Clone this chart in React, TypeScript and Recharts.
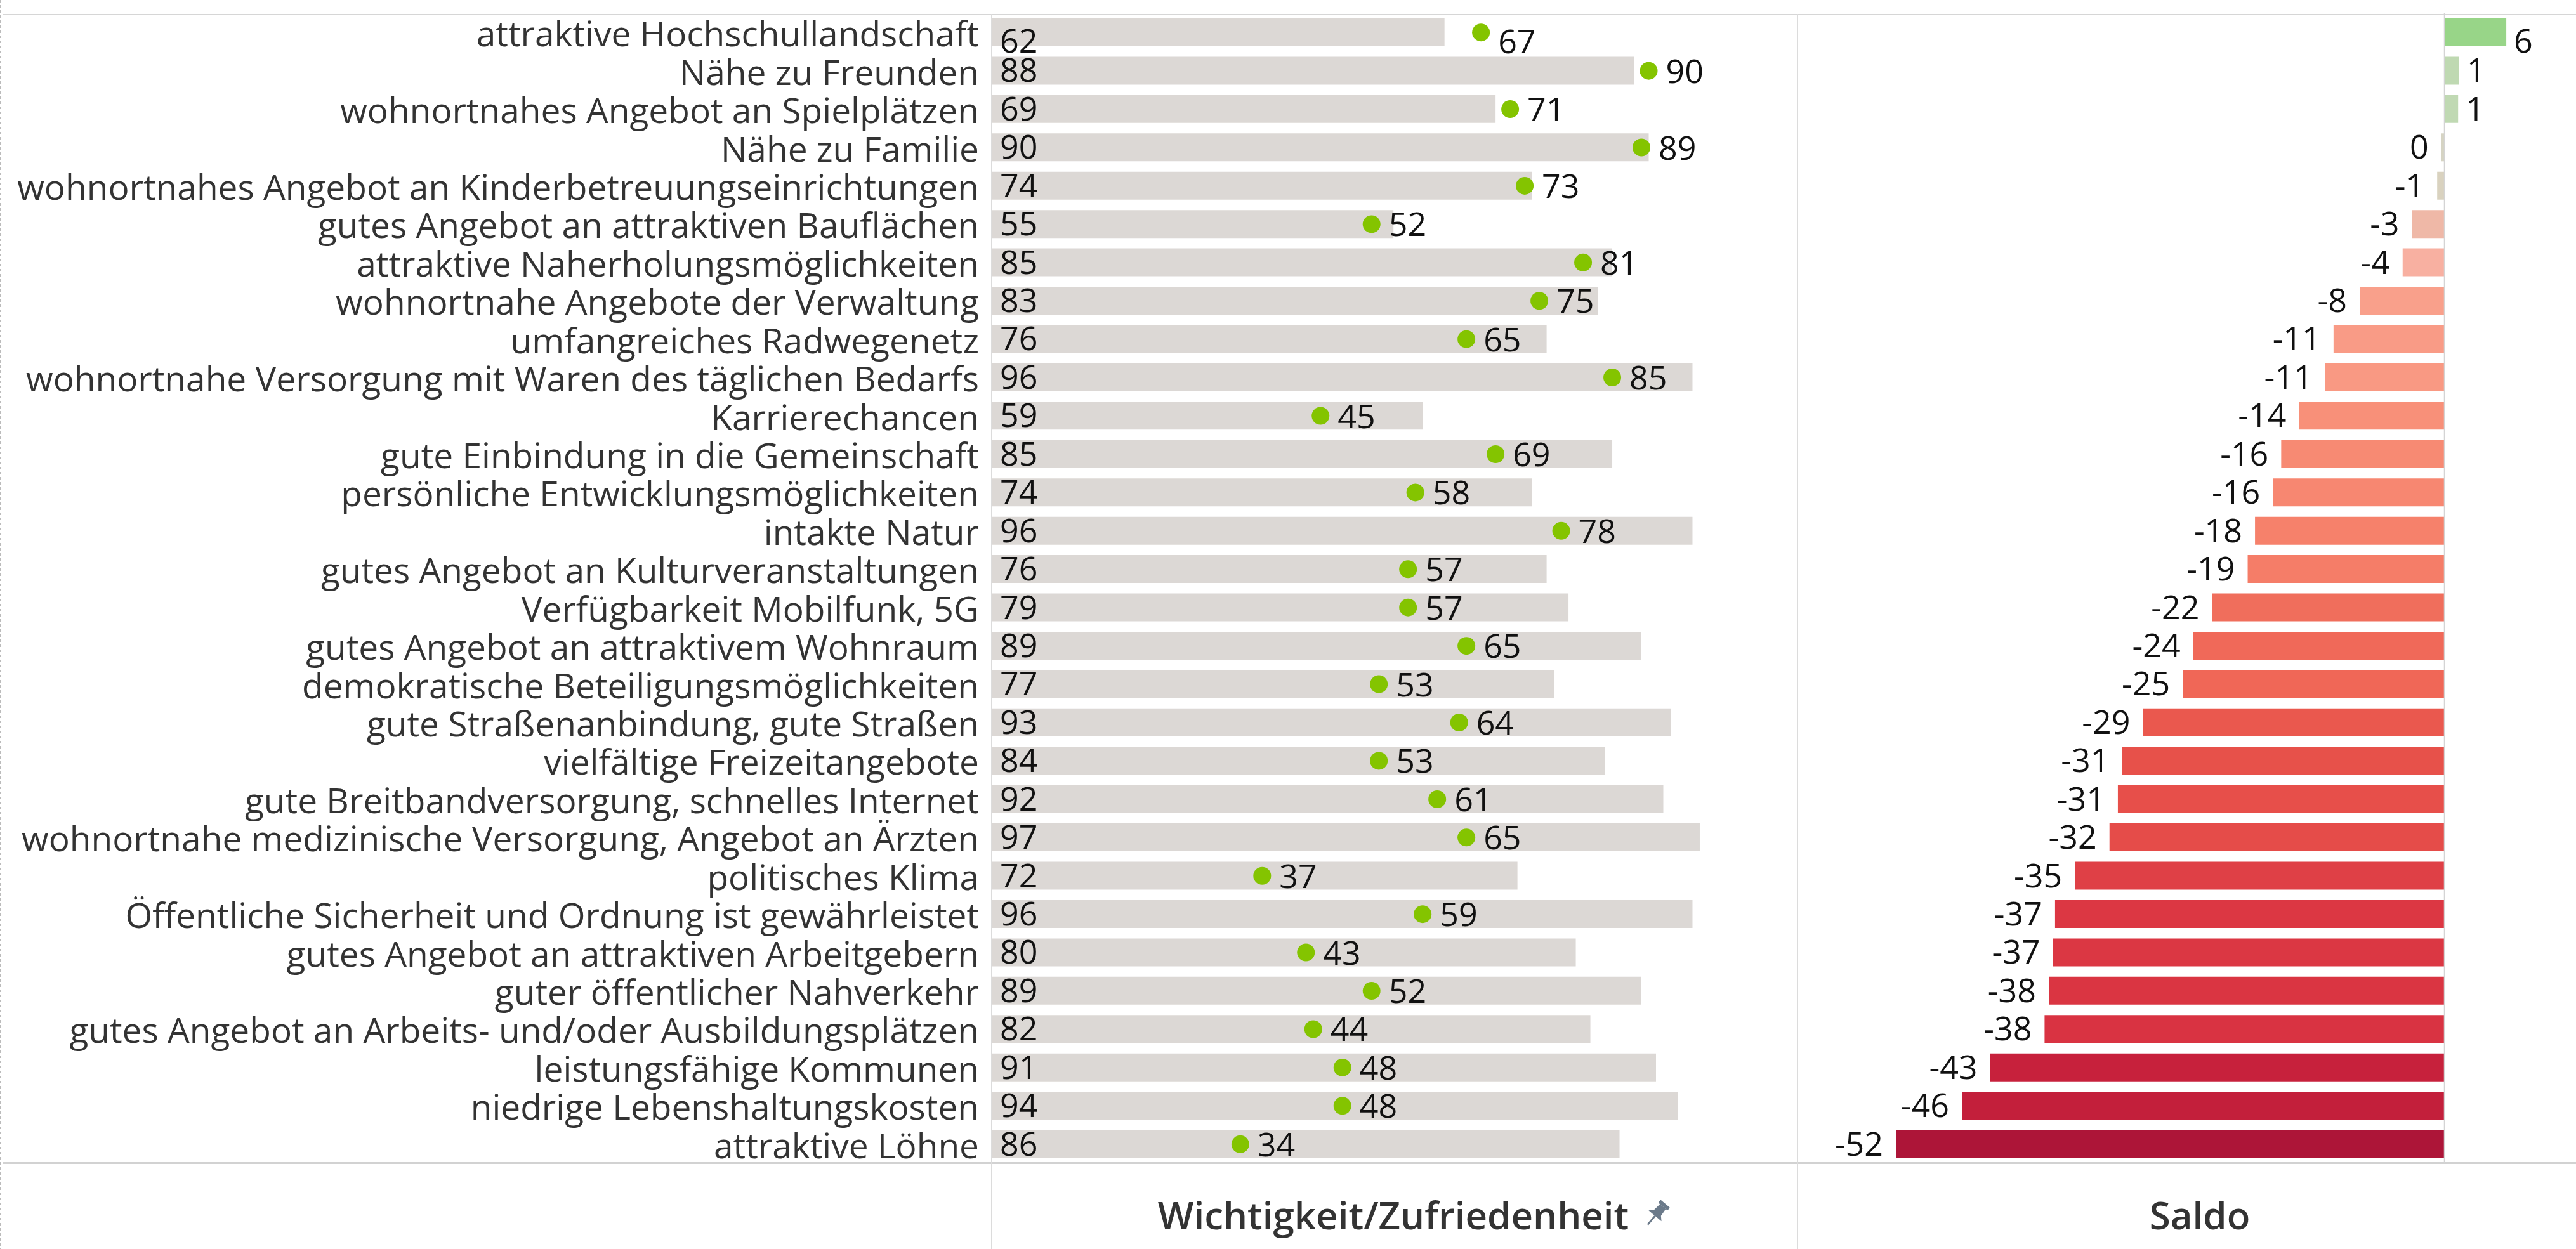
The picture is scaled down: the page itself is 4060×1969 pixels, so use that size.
import React from 'react';
import {
  ComposedChart, BarChart, Bar, Scatter,
  XAxis, YAxis, LabelList, Cell, ReferenceLine,
} from 'recharts';

/* ── Data ── */
const categories = [
  'attraktive Hochschullandschaft',
  'Nähe zu Freunden',
  'wohnortnahes Angebot an Spielplätzen',
  'Nähe zu Familie',
  'wohnortnahes Angebot an Kinderbetreuungseinrichtungen',
  'gutes Angebot an attraktiven Bauflächen',
  'attraktive Naherholungsmöglichkeiten',
  'wohnortnahe Angebote der Verwaltung',
  'umfangreiches Radwegenetz',
  'wohnortnahe Versorgung mit Waren des täglichen Bedarfs',
  'Karrierechancen',
  'gute Einbindung in die Gemeinschaft',
  'persönliche Entwicklungsmöglichkeiten',
  'intakte Natur',
  'gutes Angebot an Kulturveranstaltungen',
  'Verfügbarkeit Mobilfunk, 5G',
  'gutes Angebot an attraktivem Wohnraum',
  'demokratische Beteiligungsmöglichkeiten',
  'gute Straßenanbindung, gute Straßen',
  'vielfältige Freizeitangebote',
  'gute Breitbandversorgung, schnelles Internet',
  'wohnortnahe medizinische Versorgung, Angebot an Ärzten',
  'politisches Klima',
  'Öffentliche Sicherheit und Ordnung ist gewährleistet',
  'gutes Angebot an attraktiven Arbeitgebern',
  'guter öffentlicher Nahverkehr',
  'gutes Angebot an Arbeits- und/oder Ausbildungsplätzen',
  'leistungsfähige Kommunen',
  'niedrige Lebenshaltungskosten',
  'attraktive Löhne',
];

// Wichtigkeit (grey bar)
const importance = [62, 88, 69, 90, 74, 55, 85, 83, 76, 96, 59, 85, 74, 96, 76, 79, 89, 77, 93, 84, 92, 97, 72, 96, 80, 89, 82, 91, 94, 86];
// Zufriedenheit (green dot)
const satisfaction = [67, 90, 71, 89, 73, 52, 81, 75, 65, 85, 45, 69, 58, 78, 57, 57, 65, 53, 64, 53, 61, 65, 37, 59, 43, 52, 44, 48, 48, 34];
// Saldo
const saldo = [5.9, 1.4, 1.3, -0.3, -0.7, -3.1, -4.0, -8.1, -10.6, -11.4, -13.9, -15.6, -16.4, -18.1, -18.8, -22.2, -24.0, -25.0, -28.8, -30.8, -31.2, -32.0, -35.3, -37.2, -37.4, -37.8, -38.2, -43.4, -46.1, -52.4];

const rows = categories.map((label, i) => ({
  label,
  importance: importance[i],
  satisfaction: satisfaction[i],
  saldo: saldo[i],
}));

/* ── Styling ── */
const FONT = "'Open Sans', sans-serif";
const LABEL_SIZE = 55;
const NUM_SIZE = 52;
const W = 4060;
const H = 1969;
const MARGIN = { top: 21, right: 0, bottom: H - 1834, left: 0 };

// diverging palette for Saldo (value -> colour)
const SALDO_STOPS: [number, string][] = [
  [-52, '#ad1538'], [-46, '#c31f3b'], [-43, '#c8213c'], [-38, '#da3442'],
  [-35, '#e04146'], [-31, '#e7504a'], [-29, '#ea574d'], [-25, '#f06757'],
  [-22, '#f06e5c'], [-18, '#f6816b'], [-14, '#f89079'], [-11, '#f99a85'],
  [-8, '#f9a08b'], [-4, '#f8b0a1'], [-3, '#eeb9a8'], [-1, '#dbd0bd'],
  [0, '#d4d5c5'], [1, '#c3d9b6'], [6, '#97d587'],
];
const hex = (c: string) => [1, 3, 5].map((i) => parseInt(c.slice(i, i + 2), 16));
function saldoColor(v: number) {
  if (v <= SALDO_STOPS[0][0]) return SALDO_STOPS[0][1];
  for (let i = 1; i < SALDO_STOPS.length; i++) {
    const [v1, c1] = SALDO_STOPS[i];
    if (v <= v1) {
      const [v0, c0] = SALDO_STOPS[i - 1];
      const t = (v - v0) / (v1 - v0);
      const a = hex(c0), b = hex(c1);
      return `rgb(${a.map((x, k) => Math.round(x + (b[k] - x) * t)).join(',')})`;
    }
  }
  return SALDO_STOPS[SALDO_STOPS.length - 1][1];
}

/* ── Custom renderers ── */
const CategoryTick = ({ x, y, payload }: any) => (
  <text x={x} y={y + 22} textAnchor="end" fontFamily={FONT} fontSize={LABEL_SIZE} fill="#333">
    {payload.value}
  </text>
);

const box = (p: any) => {
  const vb = p.viewBox && p.viewBox.width !== undefined ? p.viewBox : p;
  const x = Number(vb.x), w = Number(vb.width);
  return { left: Math.min(x, x + w), right: Math.max(x, x + w), y: Number(vb.y), h: Number(vb.height) };
};

// tableau pushes the first row's numbers down a little
const firstRowShift = (i: number) => (i === 0 ? 14 : 0);

const ImportanceLabel = (p: any) => {
  const b = box(p);
  return (
    <text x={b.left + 12} y={b.y + b.h / 2 + 18 + firstRowShift(p.index)}
      fontFamily={FONT} fontSize={NUM_SIZE} fill="#111">
      {p.value}
    </text>
  );
};

const SatisfactionDot = (p: any) => {
  const { cx, cy, payload } = p;
  const shift = payload.label === categories[0] ? 14 : 0;
  return (
    <g>
      <circle cx={cx} cy={cy} r={14} fill="#84c400" />
      <text x={cx + 27} y={cy + 19 + shift} fontFamily={FONT} fontSize={NUM_SIZE} fill="#111">
        {payload.satisfaction}
      </text>
    </g>
  );
};

const SaldoLabel = (p: any) => {
  const b = box(p);
  const v = Math.round(Number(p.value));
  const neg = Number(p.value) < 0;
  return (
    <text x={neg ? b.left - 20 : b.right + 12} y={b.y + b.h / 2 + 18 + firstRowShift(p.index)}
      textAnchor={neg ? 'end' : 'start'} fontFamily={FONT} fontSize={NUM_SIZE} fill="#111">
      {String(v === 0 ? 0 : v)}
    </text>
  );
};

/* ── Frame: pane lines, headers ── */
function Frame() {
  return (
    <svg width={W} height={H} style={{ position: 'absolute', left: 0, top: 0 }}>
      <line x1={1} y1={0} x2={1} y2={H} stroke="#777" strokeDasharray="4 4" />
      <rect x={5} y={22} width={W - 5} height={2} fill="#d6d6d6" />
      <rect x={5} y={1832} width={W - 5} height={3} fill="#d2d2d2" />
      <rect x={1562} y={22} width={2} height={H - 22} fill="#dcdcdc" />
      <rect x={2832} y={22} width={2} height={H - 22} fill="#dcdcdc" />
      <text x={2196} y={1938} textAnchor="middle" fontFamily={FONT} fontWeight={600} fontSize={60} fill="#333">
        Wichtigkeit/Zufriedenheit
      </text>
      <g transform="translate(2610,1915) rotate(40) scale(1.2)" fill="#6b7a8a">
        <rect x={-8} y={-19} width={16} height={5} rx={1} />
        <path d="M-5 -14 L5 -14 L6 -3 L11 2 L-11 2 L-6 -3 Z" />
        <rect x={-1.2} y={2} width={2.4} height={15} />
      </g>
      <text x={3467} y={1938} textAnchor="middle" fontFamily={FONT} fontWeight={600} fontSize={60} fill="#333">
        Saldo
      </text>
    </svg>
  );
}

/* ── Wichtigkeit / Zufriedenheit ── */
function ImportanceChart() {
  return (
    <ComposedChart layout="vertical" width={2833} height={H} data={rows} margin={MARGIN}>
      <XAxis type="number" domain={[0, 110.4]} hide />
      <YAxis type="category" dataKey="label" width={1564} interval={0}
        axisLine={false} tickLine={false} tickSize={0} tickMargin={21} tick={<CategoryTick />} />
      <Bar dataKey="importance" fill="#dcd8d5" barSize={44} isAnimationActive={false}>
        <LabelList dataKey="importance" content={<ImportanceLabel />} />
      </Bar>
      <Scatter dataKey="satisfaction" shape={<SatisfactionDot />} isAnimationActive={false} />
    </ComposedChart>
  );
}

/* ── Saldo ── */
function SaldoChart() {
  return (
    <BarChart layout="vertical" width={W - 2833} height={H} data={rows} margin={MARGIN}>
      <XAxis type="number" domain={[-61.8, 12.56]} hide />
      <YAxis type="category" dataKey="label" hide />
      <ReferenceLine x={0} stroke="#d4d4d4" strokeWidth={2} />
      <Bar dataKey="saldo" barSize={44} isAnimationActive={false}>
        {rows.map((r, i) => (
          <Cell key={`saldo-${i}`} fill={saldoColor(r.saldo)} />
        ))}
        <LabelList dataKey="saldo" content={<SaldoLabel />} />
      </Bar>
    </BarChart>
  );
}

export default function App() {
  return (
    <div style={{ position: 'relative', width: W, height: H, background: '#fff', overflow: 'hidden' }}>
      <style>{'body{margin:0}'}</style>
      <Frame />
      <div style={{ position: 'absolute', left: 0, top: 0 }}>
        <ImportanceChart />
      </div>
      <div style={{ position: 'absolute', left: 2833, top: 0 }}>
        <SaldoChart />
      </div>
    </div>
  );
}
